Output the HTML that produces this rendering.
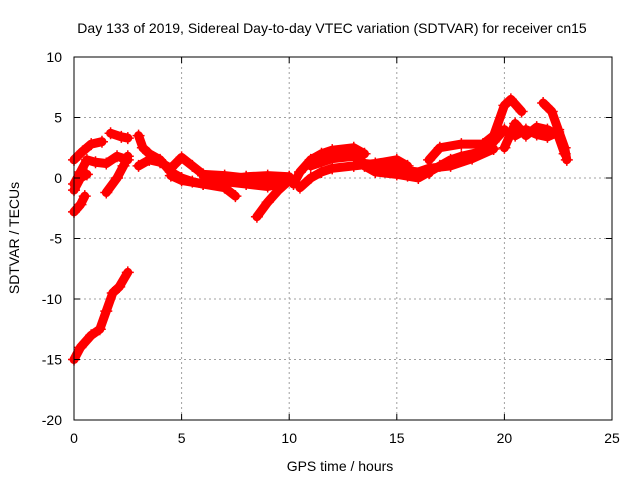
<!DOCTYPE html>
<html><head><meta charset="utf-8"><style>
body{margin:0;background:#fff}
svg{display:block;font-family:"Liberation Sans",sans-serif}
</style></head><body>
<svg id="c" width="640" height="480">
<rect width="640" height="480" fill="#fff"/>
<text x="332" y="33" font-size="14" text-anchor="middle">Day 133 of 2019, Sidereal Day-to-day VTEC variation (SDTVAR) for receiver cn15</text>
<g id="grid"></g><g id="series"></g><g id="axes"></g>
<text x="340" y="471" font-size="14" text-anchor="middle">GPS time / hours</text>
<text transform="translate(19,238) rotate(-90)" font-size="14" text-anchor="middle">SDTVAR / TECUs</text>
</svg>
<script>
const xTicks=[0,5,10,15,20,25];
const yTicks=[10,5,0,-5,-10,-15,-20];
const traceA=[[0,1.5],[0.4,2.2],[0.8,2.8],[1.3,3.0]];
const traceB=[[0,-0.5],[0.3,0.5],[0.6,1.5],[1.0,1.3],[1.5,1.2],[2.0,1.8],[2.5,1.5]];
const traceC=[[0,-1],[0.3,0],[0.6,0.3]];
const traceD=[[0,-2.8],[0.3,-2.2],[0.5,-1.5]];
const traceE=[[1.5,-1.2],[2,0],[2.3,1],[2.5,1.8]];
const traceF=[[1.7,3.7],[2.2,3.4],[2.5,3.3]];
const traceG=[[3,3.5],[3.2,2.5],[3.5,2],[4,1.5],[4.5,0.5],[5,0],[5.5,-0.3],[6,-0.5],[7,-0.8],[7.5,-1.5]];
const traceH=[[3,1],[3.5,1.5],[4,1.3],[4.5,0.8],[5,1.7],[5.5,1],[6,0.3],[7,0.2],[8,0],[9,-0.3],[10,0]];
const traceI=[[4.5,0.2],[5,-0.2],[6,-0.5],[7,-0.3],[8,-0.5],[9,-0.7],[9.5,-0.5]];
const traceI2=[[6,0.2],[7,-0.1],[8,0.1],[9,0.2],[10,0.1]];
const traceJ=[[8.5,-3.2],[9,-2],[9.5,-1],[10,-0.2]];
const traceLow=[[0,-15],[0.3,-14],[0.8,-13],[1.2,-12.5],[1.5,-11],[1.8,-9.5],[2.1,-9],[2.5,-7.8]];
const traceL=[[10.2,-0.5],[10.5,0.5],[11,1.5],[11.5,2],[12,2.3],[13,2.5],[13.5,2]];
const traceM=[[10.5,-0.8],[11,0],[11.5,0.5],[12,0.8],[13,1],[14,1.2],[15,1.5],[15.5,1]];
const traceM2=[[11,1],[12,1.6],[13,1.8],[13.5,1.2],[14.5,1],[15.5,0.6],[16.5,0.4]];
const traceN=[[13.5,1],[14,0.5],[15,0.3],[16,0],[16.5,0.5],[17,1],[17.5,1.5],[18,1.8],[19,2.2],[19.5,3],[20,4]];
const traceN2=[[15.5,0.2],[16.5,0.8],[17.5,1.0],[18.5,1.6],[19.5,2.4]];
const traceO=[[16.5,1.5],[17,2.5],[18,2.8],[19,2.8],[19.5,3.5],[20,6],[20.3,6.5],[20.8,5.5]];
const traceP=[[20,2.5],[20.5,4.5],[21,3.5],[21.5,4.2],[22,4],[22.5,3.5],[22.8,2]];
const traceP2=[[20.5,3.5],[21,4],[21.5,3.6],[22,3.4],[22.5,3.8]];
const traceQ=[[21.8,6.2],[22.2,5.5],[22.5,4],[22.8,2.5],[22.9,1.5]];
const traces=[traceA,traceB,traceC,traceD,traceE,traceF,traceG,traceH,traceI,traceI2,traceJ,traceLow,traceL,traceM,traceM2,traceN,traceN2,traceO,traceP,traceP2,traceQ];

const X0=74,X1=612,Y0=420,Y1=57,xmin=0,xmax=25,ymin=-20,ymax=10;
const sx=v=>X0+(v-xmin)/(xmax-xmin)*(X1-X0);
const sy=v=>Y0-(v-ymin)/(ymax-ymin)*(Y0-Y1);
const NS="http://www.w3.org/2000/svg";
function mk(t,a,p){const e=document.createElementNS(NS,t);for(const k in a)e.setAttribute(k,a[k]);p.appendChild(e);return e;}
const grid=document.getElementById('grid'),axes=document.getElementById('axes'),ser=document.getElementById('series');
xTicks.forEach(t=>{
  const x=sx(t);
  if(t>xmin&&t<xmax){const g=mk('line',{x1:x,x2:x,y1:Y1,y2:Y0,stroke:'#a0a0a0','stroke-dasharray':'2,3'},grid);
  
  }
  mk('line',{x1:x,x2:x,y1:Y0,y2:Y0-6,stroke:'#000'},axes);
  mk('line',{x1:x,x2:x,y1:Y1,y2:Y1+6,stroke:'#000'},axes);
  const l=mk('text',{x:x,y:Y0+23,'font-size':14,'text-anchor':'middle'},axes);l.textContent=t;
  
  
});
yTicks.forEach(t=>{
  const y=sy(t);
  if(t>ymin&&t<ymax){const g=mk('line',{x1:X0,x2:X1,y1:y,y2:y,stroke:'#a0a0a0','stroke-dasharray':'2,3'},grid);
  
  }
  mk('line',{x1:X0,x2:X0+6,y1:y,y2:y,stroke:'#000'},axes);
  mk('line',{x1:X1,x2:X1-6,y1:y,y2:y,stroke:'#000'},axes);
  const l=mk('text',{x:X0-12,y:y+5,'font-size':14,'text-anchor':'end'},axes);l.textContent=t;
  
  
});
const fr=mk('rect',{x:X0,y:Y1,width:X1-X0,height:Y0-Y1,fill:'none',stroke:'#000'},axes);


traces.forEach(tr=>{
  const g=mk('g',{},ser);
  
  
  mk('polyline',{points:tr.map(p=>sx(p[0])+','+sy(p[1])).join(' '),fill:'none',stroke:'#f00','stroke-width':9,'stroke-linejoin':'round','stroke-linecap':'round'},g);
  tr.forEach(p=>{const x=sx(p[0]),y=sy(p[1]);
    mk('path',{d:`M${x-6},${y}H${x+6}M${x},${y-6}V${y+6}`,stroke:'#f00','stroke-width':1.5},g);});
});
</script>
</body></html>
